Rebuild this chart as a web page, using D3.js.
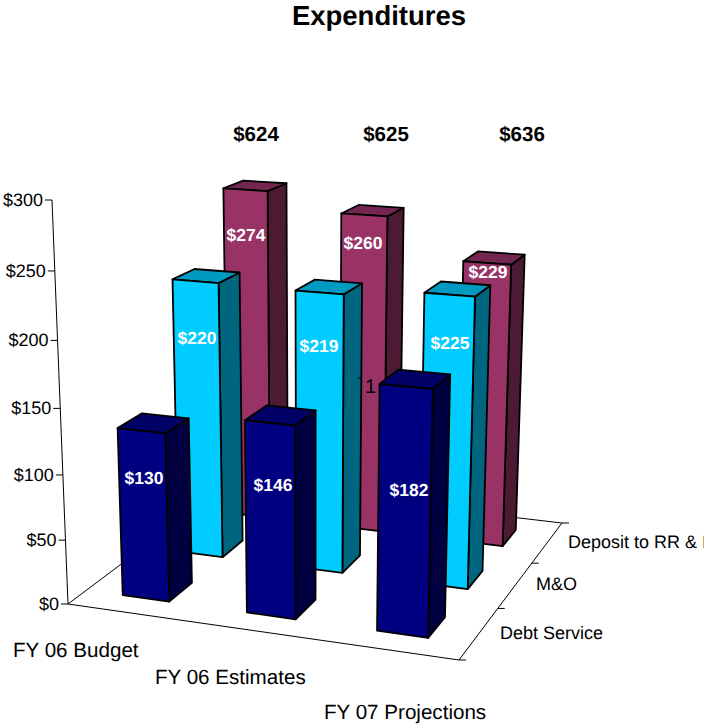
<!DOCTYPE html>
<html>
  <head>
    <title>Expenditures</title>
    <script src="https://d3js.org/d3.v7.min.js"></script>
    <style>
      body { margin: 0; background: #fff; }
      svg { display: block; }
      text { font-family: "Liberation Sans", Arial, sans-serif; fill: #000; text-rendering: geometricPrecision; }
      .title { font-size: 27.5px; font-weight: bold; text-anchor: middle; }
      .total { font-size: 20.5px; font-weight: bold; text-anchor: middle; }
      .tick-label { font-size: 18px; text-anchor: end; }
      .category-label { font-size: 20.6px; }
      .series-label { font-size: 18px; }
      .value-label { font-size: 17.5px; font-weight: bold; fill: #fff; text-anchor: middle; }
    </style>
  </head>
  <body>
    <svg width="704" height="725"></svg>
    <script>
      const categories = ["FY 06 Budget", "FY 06 Estimates", "FY 07 Projections"];
      const seriesNames = ["Debt Service", "M&O", "Deposit to RR & I"];
      const debtService = [130, 146, 182];
      const mAndO = [220, 219, 225];
      const depositRR = [274, 260, 229];
      const totals = [624, 625, 636];
      const valueTicks = [0, 50, 100, 150, 200, 250, 300];

      const seriesValues = [debtService, mAndO, depositRR];
      const seriesColors = [
        { front: "#000080", top: "#000066", side: "#000040" },
        { front: "#00ccff", top: "#0099bf", side: "#006680" },
        { front: "#993366", top: "#732650", side: "#4d1a33" }
      ];

      // floor corners of the 3d box: front left, front right, back right, back left
      const floor = [[68, 604], [459, 660], [562, 523], [228, 484]];
      const wallTop = [52, 200];
      const verticalVanish = [313, 6790];

      // homography from the unit floor square onto the picture
      function floorMatrix(q) {
        const [[x0, y0], [x1, y1], [x2, y2], [x3, y3]] = q;
        const dx1 = x1 - x2, dx2 = x3 - x2, sx = x0 - x1 + x2 - x3;
        const dy1 = y1 - y2, dy2 = y3 - y2, sy = y0 - y1 + y2 - y3;
        const det = dx1 * dy2 - dx2 * dy1;
        const g = (sx * dy2 - dx2 * sy) / det;
        const h = (dx1 * sy - sx * dy1) / det;
        return {
          a: x1 - x0 + g * x1, b: x3 - x0 + h * x3, c: x0,
          d: y1 - y0 + g * y1, e: y3 - y0 + h * y3, f: y0,
          g, h
        };
      }
      const m = floorMatrix(floor);
      const lift = (wallTop[1] - floor[0][1]) / (verticalVanish[1] - wallTop[1]);

      function project(u, v, t) {
        const w = m.g * u + m.h * v + 1 + lift * t;
        return [
          (m.a * u + m.b * v + m.c + lift * t * verticalVanish[0]) / w,
          (m.d * u + m.e * v + m.f + lift * t * verticalVanish[1]) / w
        ];
      }

      const xScale = d3.scaleBand().domain(d3.range(3)).range([0.0165, 0.9785])
        .paddingInner(0.62).paddingOuter(0.25);
      const zScale = d3.scaleBand().domain(d3.range(3)).range([0, 1])
        .paddingInner(0.59).paddingOuter(0.3);
      const yScale = d3.scaleLinear().domain([0, 300]).range([0, 1]);

      const svg = d3.select("svg");
      const line = d3.line();

      svg.append("text").attr("class", "title").attr("x", 379).attr("y", 25)
        .text("Expenditures");

      // floor outline
      const floorG = svg.append("g").attr("fill", "none").attr("stroke", "#000").attr("stroke-width", 1);
      floorG.append("path").attr("d", line([project(0, 1, 0), project(0, 0, 0), project(1, 0, 0), project(1, 1, 0), project(0, 1, 0)]));

      // value axis
      const axisG = svg.append("g");
      axisG.append("path").attr("fill", "none").attr("stroke", "#000")
        .attr("d", line([project(0, 0, 0), project(0, 0, 1)]));
      const yTicks = axisG.selectAll("g").data(valueTicks).enter().append("g")
        .attr("transform", d => `translate(${project(0, 0, yScale(d))})`);
      yTicks.append("line").attr("x1", -7).attr("stroke", "#000");
      yTicks.append("text").attr("class", "tick-label").attr("x", -9).attr("y", 6)
        .text(d => `$${d}`);

      // depth axis ticks
      const zStep = 1 / 3;
      floorG.selectAll("line").data(d3.range(4)).enter().append("line")
        .attr("x1", d => project(1, d * zStep, 0)[0])
        .attr("y1", d => project(1, d * zStep, 0)[1])
        .attr("x2", d => project(1, d * zStep, 0)[0] + 7)
        .attr("y2", d => project(1, d * zStep, 0)[1]);

      function barFaces(d) {
        const u0 = xScale(d.c), u1 = u0 + xScale.bandwidth();
        const v0 = zScale(d.s), v1 = v0 + zScale.bandwidth();
        const t = yScale(d.value);
        return {
          side: [project(u1, v0, 0), project(u1, v1, 0), project(u1, v1, t), project(u1, v0, t)],
          top: [project(u0, v0, t), project(u1, v0, t), project(u1, v1, t), project(u0, v1, t)],
          front: [project(u0, v0, 0), project(u1, v0, 0), project(u1, v0, t), project(u0, v0, t)]
        };
      }

      // painter's order: back row first, stray tick goes in before the front row
      const bars = [];
      [2, 1, 0].forEach(s => {
        if (s === 0) {
          svg.append("path").attr("d", line([[358, 377], [362, 380]])).attr("stroke", "#000").attr("fill", "none");
          svg.append("text").attr("x", 365).attr("y", 393).attr("font-size", 20).text("1");
        }
        const rowBars = seriesValues[s].map((value, c) => ({ s, c, value }));
        bars.push(...rowBars);
        const barG = svg.append("g").selectAll("g").data(rowBars).enter().append("g")
          .attr("stroke", "#000").attr("stroke-width", 1.8).attr("stroke-linejoin", "round");
        ["side", "top", "front"].forEach(face => {
          barG.append("path")
            .attr("fill", d => seriesColors[d.s][face])
            .attr("d", d => line(barFaces(d)[face]) + "Z");
        });
      });

      // value labels were placed by hand in the original, one per bar
      const valueLabelPos = [
        [[144, 484], [273, 491], [409, 496]],
        [[197, 344], [319, 352], [450, 349]],
        [[246, 241], [363, 249], [488, 278]]
      ];
      bars.forEach(d => {
        svg.append("text").attr("class", "value-label")
          .attr("x", valueLabelPos[d.s][d.c][0]).attr("y", valueLabelPos[d.s][d.c][1])
          .text(`$${d.value}`);
      });

      // totals above the groups
      const totalX = [256, 386, 522];
      svg.selectAll(".total").data(totals).enter().append("text").attr("class", "total")
        .attr("x", (d, i) => totalX[i]).attr("y", 141)
        .text(d => `$${d}`);

      const categoryPos = [[13, 657], [155, 684], [324, 719]];
      svg.selectAll(".category-label").data(categories).enter().append("text").attr("class", "category-label")
        .attr("x", (d, i) => categoryPos[i][0]).attr("y", (d, i) => categoryPos[i][1])
        .text(d => d);

      const seriesPos = [[500, 639], [536, 590], [568, 548]];
      svg.selectAll(".series-label").data(seriesNames).enter().append("text").attr("class", "series-label")
        .attr("x", (d, i) => seriesPos[i][0]).attr("y", (d, i) => seriesPos[i][1])
        .text(d => d);
    </script>
  </body>
</html>
